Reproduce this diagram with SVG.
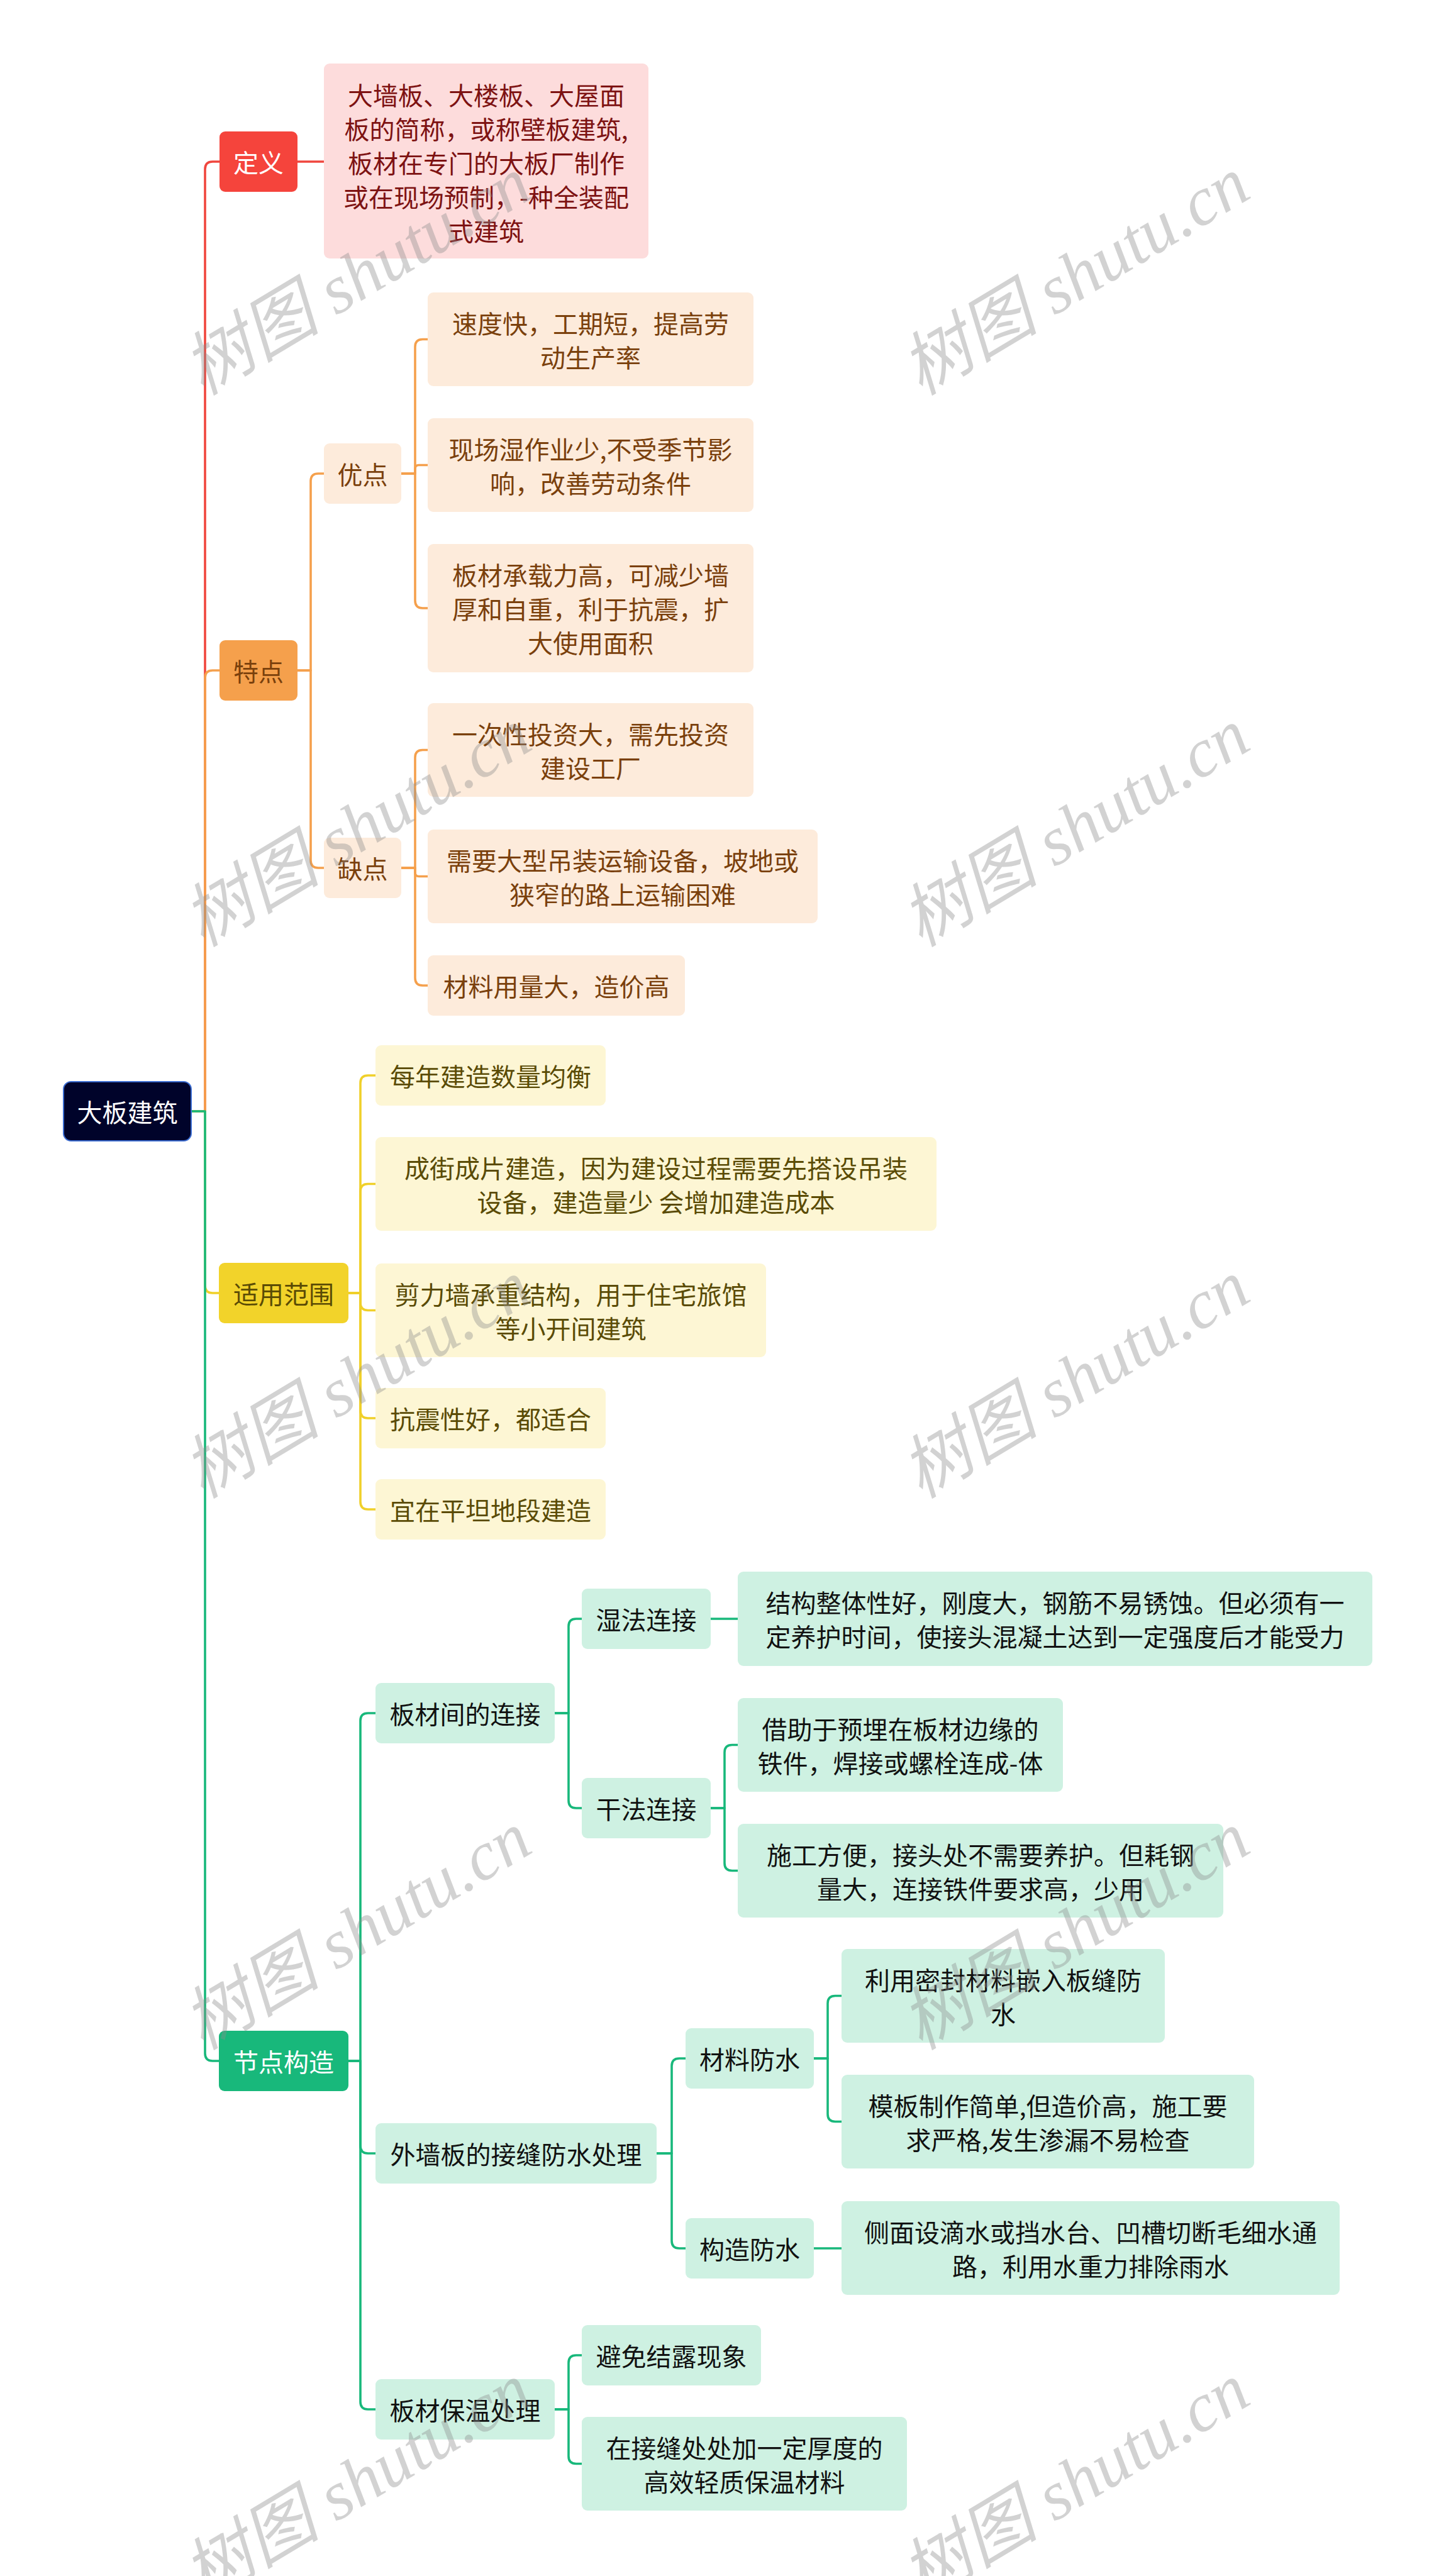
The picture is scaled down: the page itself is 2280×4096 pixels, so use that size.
<svg xmlns="http://www.w3.org/2000/svg" width="2280" height="4096" viewBox="0 0 2280 4096">
<style>
text{font-family:"Noto Sans CJK SC","Noto Sans",sans-serif;font-size:40px;text-anchor:middle;dominant-baseline:central}
.ln{fill:none;stroke-width:3.6;stroke-linecap:round;stroke-linejoin:round}
.lr{stroke:#f0463e}.lo{stroke:#f5a04c}.ly{stroke:#f0d02a}.lg{stroke:#18b87b}
.n-root{fill:#00032a;stroke:#3a6bd0;stroke-width:2}
.n-red{fill:#f5443c}.n-pink{fill:#fddcdc}
.n-org{fill:#f5a04c}.n-peach{fill:#fdebdb}
.n-yel{fill:#f2d32a}.n-lyel{fill:#fdf6d4}
.n-grn{fill:#18b87b}.n-mint{fill:#cef1e2}
.tw{fill:#ffffff}.tr{fill:#7d1212}.tb{fill:#7a400c}.to{fill:#5a4b05}.td{fill:#111111}
.wm{font-family:"Liberation Serif","Noto Sans CJK SC",serif;font-style:italic;font-size:110px;text-anchor:start;dominant-baseline:alphabetic;fill:#8c8c8c;opacity:0.38}
</style>
<rect width="2280" height="4096" fill="#ffffff"/>
<g id="connectors">
<path class="ln lr" d="M304 1767 H326 V269 Q326 257 338 257 H349"/>
<path class="ln lr" d="M473 257 H515"/>
<path class="ln lo" d="M304 1767 H326 V1078 Q326 1066 338 1066 H349"/>
<path class="ln lo" d="M473 1066 H494 V765 Q494 753 506 753 H515"/>
<path class="ln lo" d="M473 1066 H494 V1368 Q494 1380 506 1380 H515"/>
<path class="ln lo" d="M638 753 H660 V551.5 Q660 539.5 672 539.5 H680"/>
<path class="ln lo" d="M638 753 H660 V745.5 Q660 739.5 666 739.5 H680"/>
<path class="ln lo" d="M638 753 H660 V955 Q660 967 672 967 H680"/>
<path class="ln lo" d="M638 1380 H660 V1204.5 Q660 1192.5 672 1192.5 H680"/>
<path class="ln lo" d="M638 1380 H660 V1387.5 Q660 1393.5 666 1393.5 H680"/>
<path class="ln lo" d="M638 1380 H660 V1555 Q660 1567 672 1567 H680"/>
<path class="ln ly" d="M304 1767 H326 V2044 Q326 2056 338 2056 H348"/>
<path class="ln ly" d="M554 2056 H573 V1722 Q573 1710 585 1710 H597"/>
<path class="ln ly" d="M554 2056 H573 V1894.5 Q573 1882.5 585 1882.5 H597"/>
<path class="ln ly" d="M554 2056 H573 V2071.5 Q573 2083.5 585 2083.5 H597"/>
<path class="ln ly" d="M554 2056 H573 V2243 Q573 2255 585 2255 H597"/>
<path class="ln ly" d="M554 2056 H573 V2388 Q573 2400 585 2400 H597"/>
<path class="ln lg" d="M304 1767 H326 V3265 Q326 3277 338 3277 H348"/>
<path class="ln lg" d="M554 3277 H573 V2736 Q573 2724 585 2724 H597"/>
<path class="ln lg" d="M554 3277 H573 V3412 Q573 3424 585 3424 H597"/>
<path class="ln lg" d="M554 3277 H573 V3819 Q573 3831 585 3831 H597"/>
<path class="ln lg" d="M882 2724 H904 V2586 Q904 2574 916 2574 H925"/>
<path class="ln lg" d="M882 2724 H904 V2863 Q904 2875 916 2875 H925"/>
<path class="ln lg" d="M1130 2574 H1173"/>
<path class="ln lg" d="M1130 2875 H1152 V2786.5 Q1152 2774.5 1164 2774.5 H1173"/>
<path class="ln lg" d="M1130 2875 H1152 V2962.5 Q1152 2974.5 1164 2974.5 H1173"/>
<path class="ln lg" d="M1044 3424 H1068 V3285 Q1068 3273 1080 3273 H1090"/>
<path class="ln lg" d="M1044 3424 H1068 V3563 Q1068 3575 1080 3575 H1090"/>
<path class="ln lg" d="M1294 3273 H1316 V3185.5 Q1316 3173.5 1328 3173.5 H1338"/>
<path class="ln lg" d="M1294 3273 H1316 V3361.5 Q1316 3373.5 1328 3373.5 H1338"/>
<path class="ln lg" d="M1294 3575 H1338"/>
<path class="ln lg" d="M882 3831 H904 V3757 Q904 3745 916 3745 H925"/>
<path class="ln lg" d="M882 3831 H904 V3905.5 Q904 3917.5 916 3917.5 H925"/>
</g>
<g id="root"><rect class="n-root" x="101" y="1720" width="203" height="94" rx="12"/><text class="tw" x="202.5" y="1767">大板建筑</text></g>
<g id="n-dingyi"><rect class="n-red" x="349" y="209" width="124" height="96" rx="9"/><text class="tw" x="411" y="257">定义</text></g>
<g id="n-def"><rect class="n-pink" x="515" y="101" width="516" height="310" rx="9"/>
<text class="tr" x="773" y="150">大墙板、大楼板、大屋面</text>
<text class="tr" x="773" y="204">板的简称，或称壁板建筑,</text>
<text class="tr" x="773" y="258">板材在专门的大板厂制作</text>
<text class="tr" x="773" y="312">或在现场预制，-种全装配</text>
<text class="tr" x="773" y="366">式建筑</text></g>
<g id="n-tedian"><rect class="n-org" x="349" y="1018" width="124" height="96" rx="9"/><text class="tb" x="411" y="1066">特点</text></g>
<g id="n-youdian"><rect class="n-peach" x="515" y="705" width="123" height="96" rx="9"/><text class="tb" x="576.5" y="753">优点</text></g>
<g id="n-quedian"><rect class="n-peach" x="515" y="1332" width="123" height="96" rx="9"/><text class="tb" x="576.5" y="1380">缺点</text></g>
<g id="n-c1"><rect class="n-peach" x="680" y="465" width="518" height="149" rx="9"/><text class="tb" x="939" y="512.5">速度快，工期短，提高劳</text><text class="tb" x="939" y="566.5">动生产率</text></g>
<g id="n-c2"><rect class="n-peach" x="680" y="665" width="518" height="149" rx="9"/><text class="tb" x="939" y="712.5">现场湿作业少,不受季节影</text><text class="tb" x="939" y="766.5">响，改善劳动条件</text></g>
<g id="n-c3"><rect class="n-peach" x="680" y="865" width="518" height="204" rx="9"/><text class="tb" x="939" y="913">板材承载力高，可减少墙</text><text class="tb" x="939" y="967">厚和自重，利于抗震，扩</text><text class="tb" x="939" y="1021">大使用面积</text></g>
<g id="n-d1"><rect class="n-peach" x="680" y="1118" width="518" height="149" rx="9"/><text class="tb" x="939" y="1165.5">一次性投资大，需先投资</text><text class="tb" x="939" y="1219.5">建设工厂</text></g>
<g id="n-d2"><rect class="n-peach" x="680" y="1319" width="620" height="149" rx="9"/><text class="tb" x="990" y="1366.5">需要大型吊装运输设备，坡地或</text><text class="tb" x="990" y="1420.5">狭窄的路上运输困难</text></g>
<g id="n-d3"><rect class="n-peach" x="680" y="1519" width="409" height="96" rx="9"/><text class="tb" x="884.5" y="1567">材料用量大，造价高</text></g>
<g id="n-shiyong"><rect class="n-yel" x="348" y="2008" width="206" height="96" rx="9"/><text class="to" x="451" y="2056">适用范围</text></g>
<g id="n-e1"><rect class="n-lyel" x="597" y="1662" width="366" height="96" rx="9"/><text class="to" x="780" y="1710">每年建造数量均衡</text></g>
<g id="n-e2"><rect class="n-lyel" x="597" y="1808" width="892" height="149" rx="9"/><text class="to" x="1043" y="1855.5">成街成片建造，因为建设过程需要先搭设吊装</text><text class="to" x="1043" y="1909.5">设备，建造量少 会增加建造成本</text></g>
<g id="n-e3"><rect class="n-lyel" x="597" y="2009" width="621" height="149" rx="9"/><text class="to" x="907.5" y="2056.5">剪力墙承重结构，用于住宅旅馆</text><text class="to" x="907.5" y="2110.5">等小开间建筑</text></g>
<g id="n-e4"><rect class="n-lyel" x="597" y="2207" width="366" height="96" rx="9"/><text class="to" x="780" y="2255">抗震性好，都适合</text></g>
<g id="n-e5"><rect class="n-lyel" x="597" y="2352" width="366" height="96" rx="9"/><text class="to" x="780" y="2400">宜在平坦地段建造</text></g>
<g id="n-jiedian"><rect class="n-grn" x="348" y="3229" width="206" height="96" rx="9"/><text class="tw" x="451" y="3277">节点构造</text></g>
<g id="n-f1"><rect class="n-mint" x="597" y="2676" width="285" height="96" rx="9"/><text class="td" x="739.5" y="2724">板材间的连接</text></g>
<g id="n-g1"><rect class="n-mint" x="925" y="2526" width="205" height="96" rx="9"/><text class="td" x="1027.5" y="2574">湿法连接</text></g>
<g id="n-h1"><rect class="n-mint" x="1173" y="2499" width="1009" height="150" rx="9"/><text class="td" x="1677.5" y="2547">结构整体性好，刚度大，钢筋不易锈蚀。但必须有一</text><text class="td" x="1677.5" y="2601">定养护时间，使接头混凝土达到一定强度后才能受力</text></g>
<g id="n-g2"><rect class="n-mint" x="925" y="2827" width="205" height="96" rx="9"/><text class="td" x="1027.5" y="2875">干法连接</text></g>
<g id="n-h2"><rect class="n-mint" x="1173" y="2700" width="517" height="149" rx="9"/><text class="td" x="1431.5" y="2747.5">借助于预埋在板材边缘的</text><text class="td" x="1431.5" y="2801.5">铁件，焊接或螺栓连成-体</text></g>
<g id="n-h3"><rect class="n-mint" x="1173" y="2900" width="772" height="149" rx="9"/><text class="td" x="1559" y="2947.5">施工方便，接头处不需要养护。但耗钢</text><text class="td" x="1559" y="3001.5">量大，连接铁件要求高，少用</text></g>
<g id="n-f2"><rect class="n-mint" x="597" y="3376" width="447" height="96" rx="9"/><text class="td" x="820.5" y="3424">外墙板的接缝防水处理</text></g>
<g id="n-i1"><rect class="n-mint" x="1090" y="3225" width="204" height="96" rx="9"/><text class="td" x="1192" y="3273">材料防水</text></g>
<g id="n-j1"><rect class="n-mint" x="1338" y="3099" width="514" height="149" rx="9"/><text class="td" x="1595" y="3146.5">利用密封材料嵌入板缝防</text><text class="td" x="1595" y="3200.5">水</text></g>
<g id="n-j2"><rect class="n-mint" x="1338" y="3299" width="656" height="149" rx="9"/><text class="td" x="1666" y="3346.5">模板制作简单,但造价高，施工要</text><text class="td" x="1666" y="3400.5">求严格,发生渗漏不易检查</text></g>
<g id="n-i2"><rect class="n-mint" x="1090" y="3527" width="204" height="96" rx="9"/><text class="td" x="1192" y="3575">构造防水</text></g>
<g id="n-j3"><rect class="n-mint" x="1338" y="3500" width="792" height="149" rx="9"/><text class="td" x="1734" y="3547.5">侧面设滴水或挡水台、凹槽切断毛细水通</text><text class="td" x="1734" y="3601.5">路，利用水重力排除雨水</text></g>
<g id="n-f3"><rect class="n-mint" x="597" y="3783" width="285" height="96" rx="9"/><text class="td" x="739.5" y="3831">板材保温处理</text></g>
<g id="n-k1"><rect class="n-mint" x="925" y="3697" width="285" height="96" rx="9"/><text class="td" x="1067.5" y="3745">避免结露现象</text></g>
<g id="n-k2"><rect class="n-mint" x="925" y="3843" width="517" height="149" rx="9"/><text class="td" x="1183.5" y="3890.5">在接缝处处加一定厚度的</text><text class="td" x="1183.5" y="3944.5">高效轻质保温材料</text></g>
<g id="watermarks">
<text class="wm" x="322" y="630" transform="rotate(-31 322 630)">树图 shutu.cn</text>
<text class="wm" x="1464" y="630" transform="rotate(-31 1464 630)">树图 shutu.cn</text>
<text class="wm" x="322" y="1507" transform="rotate(-31 322 1507)">树图 shutu.cn</text>
<text class="wm" x="1464" y="1507" transform="rotate(-31 1464 1507)">树图 shutu.cn</text>
<text class="wm" x="322" y="2384" transform="rotate(-31 322 2384)">树图 shutu.cn</text>
<text class="wm" x="1464" y="2384" transform="rotate(-31 1464 2384)">树图 shutu.cn</text>
<text class="wm" x="322" y="3261" transform="rotate(-31 322 3261)">树图 shutu.cn</text>
<text class="wm" x="1464" y="3261" transform="rotate(-31 1464 3261)">树图 shutu.cn</text>
<text class="wm" x="322" y="4138" transform="rotate(-31 322 4138)">树图 shutu.cn</text>
<text class="wm" x="1464" y="4138" transform="rotate(-31 1464 4138)">树图 shutu.cn</text>
</g>
</svg>
